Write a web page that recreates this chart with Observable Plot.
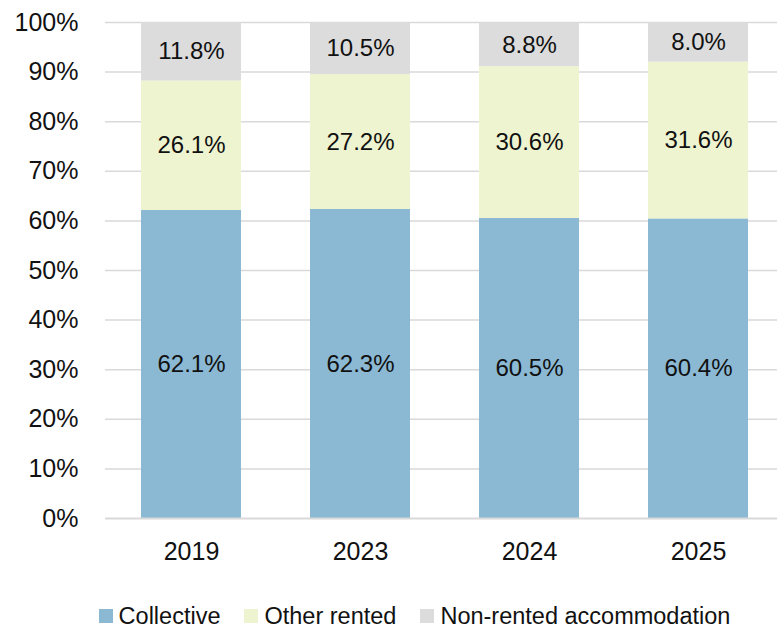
<!DOCTYPE html>
<html>
<head>
<meta charset="utf-8">
<script src="https://cdn.jsdelivr.net/npm/d3@7"></script>
<script src="https://cdn.jsdelivr.net/npm/@observablehq/plot@0.6"></script>
<style>
  body { margin: 0; background: #fff; font-family: "Liberation Sans", sans-serif; }
  #chart { width: 777px; height: 570px; }
  .legend { display: flex; justify-content: center; align-items: center; padding-left: 52px; margin-top: 33px; font-size: 23.5px; color: #111; line-height: 26px; height: 26px; }
  .legend .item { display: flex; align-items: center; margin: 0 12px; }
  .legend .sw { width: 14px; height: 14px; margin-right: 6px; }
</style>
</head>
<body>
<div id="chart"></div>
<script>
const years = ["2019", "2023", "2024", "2025"];
const seriesNames = ["Collective", "Other rented", "Non-rented accommodation"];
const collective = [62.1, 62.3, 60.5, 60.4];
const otherRented = [26.1, 27.2, 30.6, 31.6];
const nonRented = [11.8, 10.5, 8.8, 8.0];
const colors = ["#8BB9D4", "#EFF4D0", "#DCDCDC"];
const yTicks = [0, 10, 20, 30, 40, 50, 60, 70, 80, 90, 100];

const seriesValues = [collective, otherRented, nonRented];
const data = [];
seriesNames.forEach((s, i) => {
  years.forEach((yr, j) => data.push({ year: yr, series: s, value: seriesValues[i][j] }));
});

const fontFam = "'Liberation Sans', sans-serif";
const chart = Plot.plot({
  width: 777,
  height: 570,
  marginTop: 22,
  marginBottom: 52,
  marginLeft: 105,
  marginRight: 0,
  style: { fontFamily: fontFam, fontSize: "22px", color: "#000", background: "#fff" },
  x: { domain: years, range: [105, 783], paddingInner: 0.41, paddingOuter: 0.205, label: null },
  y: { domain: [0, 100], label: null },
  color: { domain: seriesNames, range: colors },
  marks: [
    Plot.ruleY(yTicks.filter(d => d > 0), { stroke: "#D9D9D9", strokeWidth: 1.5 }),
    Plot.barY(data, { x: "year", y: "value", fill: "series", order: seriesNames }),
    Plot.ruleY([0], { stroke: "#D9D9D9", strokeWidth: 2 }),
    Plot.text(data, Plot.stackY({ x: "year", y: "value", z: "series", order: seriesNames, text: d => d.value.toFixed(1) + "%", fill: "#111", fontSize: 24 })),
    Plot.axisY({ ticks: yTicks, tickSize: 0, tickPadding: 27, tickFormat: d => d + "%", fontSize: 25, fill: "#111" }),
    Plot.axisX({ tickSize: 0, tickPadding: 24, fontSize: 25, fill: "#111" })
  ]
});
document.getElementById("chart").appendChild(chart);

const legend = document.createElement("div");
legend.className = "legend";
seriesNames.forEach((s, i) => {
  const item = document.createElement("div");
  item.className = "item";
  const sw = document.createElement("span");
  sw.className = "sw";
  sw.style.background = colors[i];
  const t = document.createElement("span");
  t.textContent = s;
  item.appendChild(sw);
  item.appendChild(t);
  legend.appendChild(item);
});
document.body.appendChild(legend);
</script>
</body>
</html>
